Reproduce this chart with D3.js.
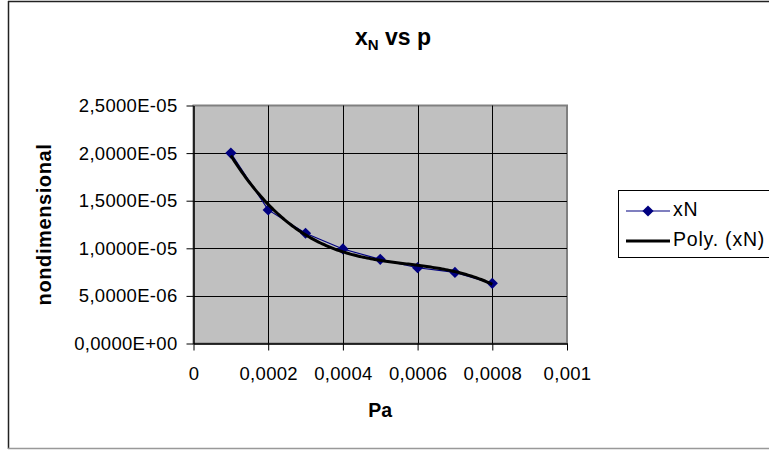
<!DOCTYPE html>
<html>
<head>
<meta charset="utf-8">
<script src="https://cdn.jsdelivr.net/npm/d3@7"></script>
<style>
  html, body { margin: 0; padding: 0; background: #fff; }
  svg { display: block; font-family: "Liberation Sans", Arial, sans-serif; }
</style>
</head>
<body>
<svg id="chart" width="769" height="450"></svg>
<script>
// Pressure (Pa) and the nondimensional xN series
const pressure = [0.0001, 0.0002, 0.0003, 0.0004, 0.0005, 0.0006, 0.0007, 0.0008];
const xN = [2.00e-5, 1.403e-5, 1.158e-5, 0.993e-5, 0.884e-5, 0.796e-5, 0.747e-5, 0.632e-5];

// Axis ticks and their labels
const xTicks = [0, 0.0002, 0.0004, 0.0006, 0.0008, 0.001];
const xTickLabels = ["0", "0,0002", "0,0004", "0,0006", "0,0008", "0,001"];
const yTicks = [0, 0.5e-5, 1.0e-5, 1.5e-5, 2.0e-5, 2.5e-5];
const yTickLabels = ["0,0000E+00", "5,0000E-06", "1,0000E-05", "1,5000E-05", "2,0000E-05", "2,5000E-05"];

const seriesNames = ["xN", "Poly. (xN)"];
const trendOrder = 3;

const svg = d3.select("#chart");

// Plot area
const plot = { left: 193.5, right: 567, top: 105.5, bottom: 343.5 };
const x = d3.scaleLinear().domain([0, 0.001]).range([plot.left, plot.right]);
const y = d3.scaleLinear().domain([0, 2.5e-5]).range([plot.bottom, plot.top]);

// Outer chart frame: dark left and top edges, grey bottom edge
svg.append("line").attr("x1", 8.5).attr("x2", 8.5).attr("y1", 1).attr("y2", 449)
  .attr("stroke", "#222").attr("stroke-width", 1.5);
svg.append("line").attr("x1", 8).attr("x2", 769).attr("y1", 1.5).attr("y2", 1.5)
  .attr("stroke", "#222").attr("stroke-width", 1.5);
svg.append("line").attr("x1", 8).attr("x2", 769).attr("y1", 448.5).attr("y2", 448.5)
  .attr("stroke", "#999").attr("stroke-width", 1.5);

// Plot background
svg.append("rect")
  .attr("x", plot.left).attr("y", plot.top)
  .attr("width", plot.right - plot.left).attr("height", plot.bottom - plot.top)
  .attr("fill", "#c0c0c0").attr("stroke", "#808080").attr("stroke-width", 2);

// Gridlines
const grid = svg.append("g").attr("stroke", "#000").attr("stroke-width", 1);
grid.selectAll("line.h").data(yTicks.slice(1, -1)).join("line")
  .attr("x1", plot.left).attr("x2", plot.right)
  .attr("y1", d => Math.round(y(d)) + 0.5).attr("y2", d => Math.round(y(d)) + 0.5);
grid.selectAll("line.v").data(xTicks.slice(1, -1)).join("line")
  .attr("y1", plot.top).attr("y2", plot.bottom)
  .attr("x1", d => Math.round(x(d)) + 0.5).attr("x2", d => Math.round(x(d)) + 0.5);

// Axes
const tickFont = "18.5px";
const xAxis = d3.axisBottom(x).tickValues(xTicks)
  .tickFormat((d, i) => xTickLabels[i]).tickSizeInner(7).tickSizeOuter(0).tickPadding(16);
const yAxis = d3.axisLeft(y).tickValues(yTicks)
  .tickFormat((d, i) => yTickLabels[i]).tickSizeInner(7).tickSizeOuter(0).tickPadding(9);

const gx = svg.append("g").attr("transform", `translate(0,${plot.bottom})`).call(xAxis);
const gy = svg.append("g").attr("transform", `translate(${plot.left},0)`).call(yAxis);
[gx, gy].forEach(g => {
  g.select(".domain").attr("stroke", "#000").attr("stroke-width", 1.5);
  g.selectAll(".tick line").attr("stroke", "#000");
  g.selectAll(".tick text").attr("fill", "#000")
    .style("font-family", '"Liberation Sans", Arial, sans-serif')
    .style("font-size", tickFont).style("letter-spacing", "0.3px");
});

// Polynomial trendline (least squares, scaled x for conditioning)
function polyFit(xs, ys, order) {
  const n = order + 1;
  const A = Array.from({ length: n }, () => new Array(n + 1).fill(0));
  xs.forEach((xv, k) => {
    for (let i = 0; i < n; i++) {
      for (let j = 0; j < n; j++) A[i][j] += Math.pow(xv, i + j);
      A[i][n] += ys[k] * Math.pow(xv, i);
    }
  });
  for (let c = 0; c < n; c++) {
    let p = c;
    for (let r = c + 1; r < n; r++) if (Math.abs(A[r][c]) > Math.abs(A[p][c])) p = r;
    [A[c], A[p]] = [A[p], A[c]];
    for (let r = 0; r < n; r++) {
      if (r === c) continue;
      const f = A[r][c] / A[c][c];
      for (let k = c; k <= n; k++) A[r][k] -= f * A[c][k];
    }
  }
  return A.map((row, i) => row[n] / row[i]);
}
const scaleX = 1e4;
const coef = polyFit(pressure.map(v => v * scaleX), xN, trendOrder);
const polyAt = v => coef.reduce((s, c, i) => s + c * Math.pow(v * scaleX, i), 0);
const trendPts = d3.range(0, 141).map(i => {
  const p = pressure[0] + (pressure[pressure.length - 1] - pressure[0]) * i / 140;
  return [p, polyAt(p)];
});

// xN series line
svg.append("path")
  .datum(pressure.map((p, i) => [p, xN[i]]))
  .attr("fill", "none").attr("stroke", "#000080").attr("stroke-width", 1.2)
  .attr("d", d3.line().x(d => x(d[0])).y(d => y(d[1])));

// Diamond markers
const diamond = d3.symbol().type(d3.symbolDiamond2).size(80);
svg.append("g").selectAll("path").data(pressure).join("path")
  .attr("transform", (p, i) => `translate(${x(p)},${y(xN[i])})`)
  .attr("d", diamond).attr("fill", "#000080");

// Trendline on top
svg.append("path")
  .datum(trendPts)
  .attr("fill", "none").attr("stroke", "#000").attr("stroke-width", 3)
  .attr("stroke-linejoin", "round")
  .attr("d", d3.line().x(d => x(d[0])).y(d => y(d[1])));

// Title: x with subscript N, then "vs p"
const title = svg.append("text")
  .attr("x", 393).attr("y", 45).attr("text-anchor", "middle")
  .style("font-size", "23px").style("font-weight", "bold").attr("fill", "#000");
title.append("tspan").text("x");
title.append("tspan").attr("dy", 4.5).style("font-size", "15px").text("N");
title.append("tspan").attr("dy", -4.5).text(" vs p");

// Axis titles
svg.append("text")
  .attr("x", (plot.left + plot.right) / 2).attr("y", 417).attr("text-anchor", "middle")
  .style("font-size", "19.5px").style("font-weight", "bold").text("Pa");
svg.append("text")
  .attr("transform", `translate(51,${(plot.top + plot.bottom) / 2}) rotate(-90)`)
  .attr("text-anchor", "middle")
  .style("font-size", "20px").style("font-weight", "bold").style("letter-spacing", "0.6px")
  .text("nondimensional");

// Legend
const legend = svg.append("g");
legend.append("rect")
  .attr("x", 618.5).attr("y", 190.5).attr("width", 200).attr("height", 67)
  .attr("fill", "#fff").attr("stroke", "#000").attr("stroke-width", 1);
const rows = [211, 241];
legend.append("line")
  .attr("x1", 626).attr("x2", 670).attr("y1", rows[0]).attr("y2", rows[0])
  .attr("stroke", "#000080").attr("stroke-width", 1.2);
legend.append("path")
  .attr("transform", `translate(648,${rows[0]})`).attr("d", diamond).attr("fill", "#000080");
legend.append("line")
  .attr("x1", 626).attr("x2", 670).attr("y1", rows[1]).attr("y2", rows[1])
  .attr("stroke", "#000").attr("stroke-width", 3);
legend.selectAll("text.item").data(seriesNames).join("text")
  .attr("x", 673).attr("y", (d, i) => rows[i] + 5)
  .style("font-size", "19.5px").style("letter-spacing", "0.8px").text(d => d);
</script>
</body>
</html>
